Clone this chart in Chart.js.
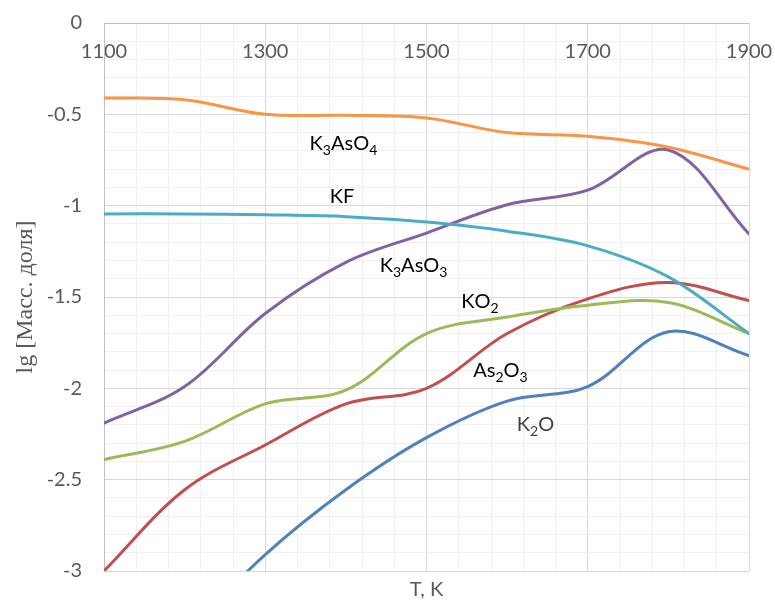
<!DOCTYPE html>
<html>
<head>
<meta charset="utf-8">
<script src="https://cdn.jsdelivr.net/npm/chart.js@4.4.1/dist/chart.umd.min.js"></script>
<style>
  html, body { margin: 0; padding: 0; background: #ffffff; }
  #wrap { width: 775px; height: 603px; position: relative; }
</style>
</head>
<body>
<div id="wrap"><canvas id="c" width="775" height="603"></canvas></div>
<script>
// ---- data ----
const temps = [1100, 1200, 1300, 1400, 1500, 1600, 1700, 1800, 1900];
const k3aso4 = [-0.41, -0.42, -0.50, -0.505, -0.52, -0.60, -0.62, -0.68, -0.80];
const kf     = [-1.045, -1.045, -1.05, -1.06, -1.09, -1.14, -1.22, -1.39, -1.70];
const k3aso3 = [-2.19, -1.99, -1.59, -1.31, -1.15, -0.995, -0.915, -0.695, -1.155];
const ko2    = [-2.39, -2.29, -2.085, -2.01, -1.70, -1.61, -1.545, -1.53, -1.70];
const as2o3  = [-3.00, -2.555, -2.31, -2.085, -2.00, -1.70, -1.51, -1.42, -1.52];
const k2o    = [null, -3.35, -2.91, -2.555, -2.27, -2.07, -1.99, -1.69, -1.82];

const xTickLabels = [1100, 1300, 1500, 1700, 1900];
const yTickLabels = [0, -0.5, -1, -1.5, -2, -2.5, -3];

// series labels: text ("_" marks next char as subscript), position in data units (left, baseline)
const labelTexts = ["K_3AsO_4", "KF", "K_3AsO_3", "KO_2", "As_2O_3", "K_2O"];
const labelT     = [1355, 1380, 1442, 1543, 1558, 1612];
const labelV     = [-0.695, -0.987, -1.361, -1.562, -1.936, -2.232];
const labelColors = ["#000000", "#000000", "#000000", "#000000", "#000000", "#404040"];

const seriesNames = ["K3AsO4", "KF", "K3AsO3", "KO2", "As2O3", "K2O"];
const seriesValues = [k3aso4, kf, k3aso3, ko2, as2o3, k2o];
const seriesColors = ["#F79646", "#4BACC6", "#8064A2", "#9BBB59", "#C0504D", "#4F81BD"];

const X_MIN = 1100, X_MAX = 1900, X_MINOR = 40;
const Y_MIN = -3, Y_MAX = 0, Y_MINOR = 0.1;

function near(a, b) { return Math.abs(a - b) < 1e-6; }
function zeroPad(s) { s.paddingLeft = 0; s.paddingRight = 0; s.paddingTop = 0; s.paddingBottom = 0; }

const datasets = seriesValues.map((arr, i) => ({
  label: seriesNames[i],
  data: temps.map((t, j) => ({ x: t, y: arr[j] })).filter(p => p.y !== null),
  borderColor: seriesColors[i],
  backgroundColor: seriesColors[i],
  borderWidth: 3,
  pointRadius: 0,
  pointHoverRadius: 0,
  tension: 0.35,
  borderCapStyle: 'round',
  fill: false
}));

const labelPlugin = {
  id: 'seriesLabels',
  afterDatasetsDraw(chart) {
    const ctx = chart.ctx;
    const xs = chart.scales.x, ys = chart.scales.y;
    ctx.save();
    ctx.textBaseline = 'alphabetic';
    ctx.textAlign = 'left';
    labelTexts.forEach((txt, i) => {
      let x = xs.getPixelForValue(labelT[i]);
      const y = ys.getPixelForValue(labelV[i]);
      ctx.fillStyle = labelColors[i];
      for (let k = 0; k < txt.length; k++) {
        let ch = txt[k];
        if (ch === '_') {
          k++; ch = txt[k];
          ctx.font = '14px Lato';
          ctx.fillText(ch, x, y + 5);
          x += ctx.measureText(ch).width;
        } else {
          ctx.font = '20px Lato';
          ctx.fillText(ch, x, y);
          x += ctx.measureText(ch).width;
        }
      }
    });
    ctx.restore();
  }
};

Chart.defaults.font.family = 'Lato';

new Chart(document.getElementById('c'), {
  type: 'line',
  data: { datasets },
  options: {
    responsive: false,
    animation: false,
    events: [],
    layout: { padding: { top: 23, right: 26, left: 0, bottom: 0 } },
    plugins: { legend: { display: false }, tooltip: { enabled: false }, title: { display: false } },
    scales: {
      x: {
        type: 'linear',
        position: 'bottom',
        min: X_MIN, max: X_MAX,
        afterBuildTicks(scale) {
          const t = [];
          for (let v = X_MIN; v <= X_MAX + 1e-9; v += X_MINOR) t.push({ value: v });
          scale.ticks = t;
        },
        afterFit(scale) { zeroPad(scale); scale.height = 32; },
        ticks: { display: false },
        grid: {
          drawTicks: false,
          lineWidth: 1,
          color(ctx) {
            const v = ctx.tick ? ctx.tick.value : 0;
            if (near(v, X_MIN)) return '#bfbfbf';
            if (xTickLabels.some(l => near(l, v))) return '#d9d9d9';
            return '#f0f0f0';
          }
        },
        border: { display: false },
        title: {
          display: true,
          text: 'T, K',
          color: '#595959',
          font: { family: 'Lato', size: 20 },
          padding: { top: 7, bottom: 1 }
        }
      },
      xTop: {
        type: 'linear',
        position: { y: 0 },
        min: X_MIN, max: X_MAX,
        afterBuildTicks(scale) { scale.ticks = xTickLabels.map(v => ({ value: v })); },
        afterFit(scale) { zeroPad(scale); scale.height = 0; },
        ticks: {
          color: '#595959',
          font: { family: 'Lato', size: 20 },
          padding: 17,
          maxRotation: 0,
          autoSkip: false,
          callback: (v) => String(v)
        },
        grid: { display: false, drawTicks: false },
        border: { display: false }
      },
      y: {
        type: 'linear',
        position: 'left',
        min: Y_MIN, max: Y_MAX,
        afterBuildTicks(scale) {
          const t = [];
          for (let i = 0; i <= Math.round((Y_MAX - Y_MIN) / Y_MINOR); i++) t.push({ value: +(Y_MIN + i * Y_MINOR).toFixed(4) });
          scale.ticks = t;
        },
        afterFit(scale) { zeroPad(scale); scale.width = 104; },
        ticks: {
          color: '#595959',
          font: { family: 'Lato', size: 20 },
          padding: 22,
          autoSkip: false,
          callback(v) {
            const m = yTickLabels.find(l => near(l, v));
            return m === undefined ? '' : String(m);
          }
        },
        grid: {
          drawTicks: false,
          lineWidth: 1,
          color(ctx) {
            const v = ctx.tick ? ctx.tick.value : 0;
            if (near(v, 0)) return '#bfbfbf';
            if (yTickLabels.some(l => near(l, v))) return '#d9d9d9';
            return '#f0f0f0';
          }
        },
        border: { display: true, color: '#bfbfbf', width: 1 },
        title: {
          display: true,
          text: 'lg [Масс. доля]',
          color: '#595959',
          font: { family: 'Liberation Serif', size: 24 },
          padding: { top: 11, bottom: 0 }
        }
      }
    }
  },
  plugins: [labelPlugin]
});
</script>
</body>
</html>
